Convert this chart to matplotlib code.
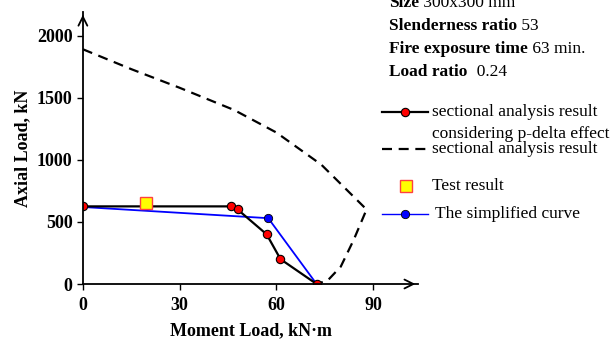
import matplotlib
matplotlib.use("Agg")
import matplotlib.pyplot as plt

# sectional analysis with p-delta effect
pdelta_m = [0, 46, 48, 57, 61.3, 72.5]
pdelta_p = [625, 625, 600, 400, 200, 0]

# sectional analysis without p-delta
sect_m = [0, 15, 30, 47, 60, 74, 88, 84, 80, 76, 72.5]
sect_p = [1890, 1730, 1580, 1400, 1220, 960, 600, 355, 140, 30, 0]

# simplified curve
simp_m = [0, 57.5, 72.5]
simp_p = [620, 530, 0]

# test result
test_m = [19.6]
test_p = [650]

xticks = [0, 30, 60, 90]
yticks = [0, 500, 1000, 1500, 2000]

plt.rcParams['font.family'] = 'Liberation Serif'
plt.rcParams['font.size'] = 12.5

fig = plt.figure(figsize=(6.14, 3.43), dpi=100)
ax = fig.add_axes([0.135, 0.172, 0.546, 0.793])

ax.plot(sect_m, sect_p, color='black', lw=1.6, dashes=(4.5, 3))
ax.plot(simp_m, simp_p, color='#0000ff', lw=1.3, marker='o', ms=6,
        mfc='#0000ff', mec='black', mew=0.6, markevery=[1])
ax.plot(pdelta_m, pdelta_p, color='black', lw=1.6, marker='o', ms=6,
        mfc='red', mec='black', mew=0.8)
ax.plot(test_m, test_p, ls='none', marker='s', ms=8, mfc='yellow',
        mec='#ff4040', mew=1.0)

ax.set_xlim(0, 104)
ax.set_ylim(0, 2190)
ax.set_xticks(xticks)
ax.set_yticks(yticks)
ax.tick_params(direction='out', length=4, width=1, labelsize=13)
ax.tick_params(axis='x', pad=5)
for lab in ax.get_xticklabels() + ax.get_yticklabels():
    lab.set_fontweight('bold')

for s in ['top', 'right']:
    ax.spines[s].set_visible(False)
for s in ['left', 'bottom']:
    ax.spines[s].set_linewidth(1.3)

# arrow heads on the axes
ax.annotate('', xy=(1.0, 0), xytext=(0.97, 0), xycoords='axes fraction',
            arrowprops=dict(arrowstyle='->', lw=1.3, mutation_scale=16),
            annotation_clip=False)
ax.annotate('', xy=(0, 1.0), xytext=(0, 0.97), xycoords='axes fraction',
            arrowprops=dict(arrowstyle='->', lw=1.3, mutation_scale=16),
            annotation_clip=False)

ax.set_xlabel('Moment Load, kN\u00b7m', fontweight='bold', fontsize=13,
              labelpad=6)
ax.set_ylabel('Axial Load, kN', fontweight='bold', fontsize=13, labelpad=4)

# column info
info = [('Size', ' 300x300 mm', 0.980),
        ('Slenderness ratio', ' 53', 0.913),
        ('Fire exposure time', ' 63 min.', 0.845),
        ('Load ratio', '  0.24', 0.778)]
for bold, rest, y in info:
    t = fig.text(0.634, y, bold, fontweight='bold', va='baseline')
    ax.annotate(rest, xy=(1, 0), xycoords=t, va='bottom', ha='left',
                annotation_clip=False)

# hand-made legend
lx0, lx1, tx = 0.622, 0.697, 0.703
fig.add_artist(plt.Line2D([lx0, lx1], [0.673, 0.673], color='black', lw=1.6,
                          transform=fig.transFigure))
fig.add_artist(plt.Line2D([(lx0 + lx1) / 2], [0.673], marker='o', ms=6,
                          mfc='red', mec='black', mew=0.8,
                          transform=fig.transFigure))
fig.text(tx, 0.673, 'sectional analysis result', va='center')
fig.text(tx, 0.609, 'considering p-delta effect', va='center')
fig.add_artist(plt.Line2D([lx0, lx1], [0.565, 0.565], color='black', lw=1.6,
                          dashes=(4.5, 3), transform=fig.transFigure))
fig.text(tx, 0.565, 'sectional analysis result', va='center')
fig.add_artist(plt.Line2D([0.661], [0.458], marker='s', ms=8, mfc='yellow',
                          mec='#ff4040', mew=1.0, transform=fig.transFigure))
fig.text(tx, 0.458, 'Test result', va='center')
fig.add_artist(plt.Line2D([lx0, lx1], [0.376, 0.376], color='#0000ff', lw=1.0,
                          transform=fig.transFigure))
fig.add_artist(plt.Line2D([(lx0 + lx1) / 2], [0.376], marker='o', ms=6,
                          mfc='#0000ff', mec='black', mew=0.6,
                          transform=fig.transFigure))
fig.text(0.709, 0.376, 'The simplified curve', va='center')

fig.savefig('out.png', dpi=100)
